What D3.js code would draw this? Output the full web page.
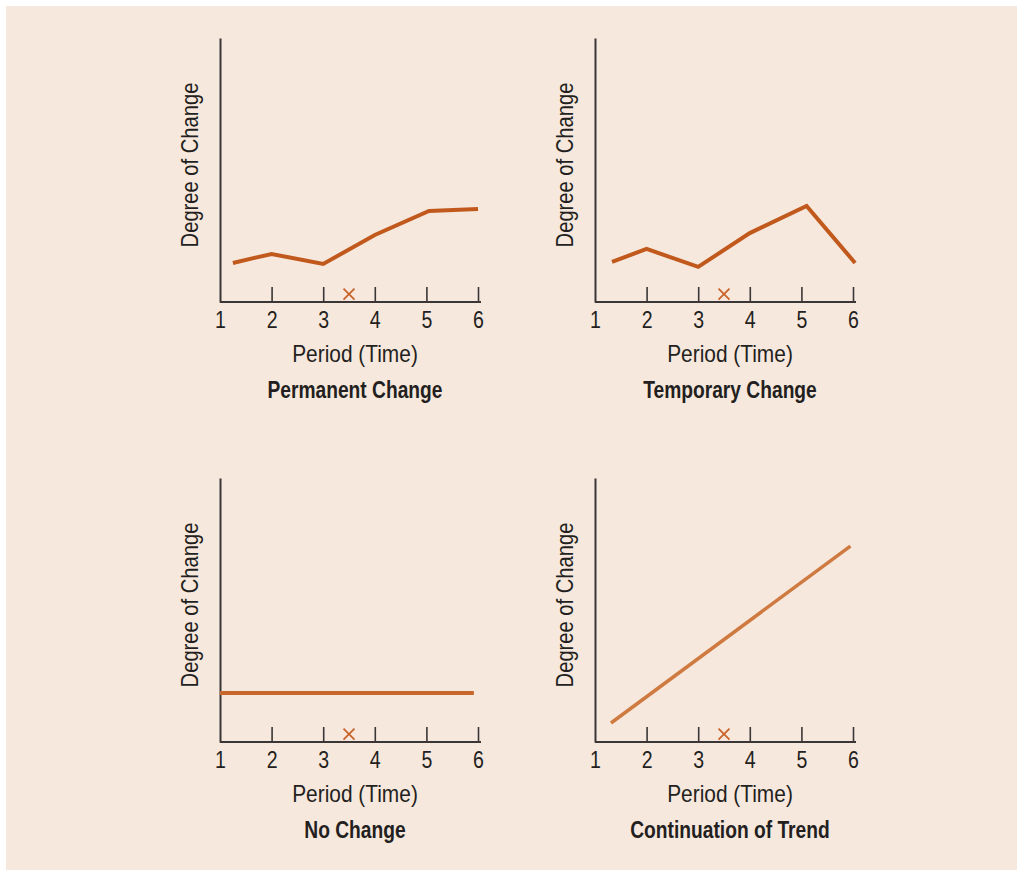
<!DOCTYPE html>
<html>
<head>
<meta charset="utf-8">
<script src="https://cdn.jsdelivr.net/npm/d3@7"></script>
<style>
  html, body { margin: 0; padding: 0; background: #ffffff; }
  svg text { font-family: "Liberation Sans", Arial, sans-serif; fill: #231f20; }
</style>
</head>
<body>
<svg id="chart" width="1017" height="870"></svg>
<script>
// ---- Data ----
const periods = [1, 2, 3, 4, 5, 6];
const tickPeriods = [2, 3, 4, 5, 6];
const xTitle = "Period (Time)";
const yTitle = "Degree of Change";
const markerPeriod = 3.5;
const markerLevel = 3;

const permanentX = [1.25, 2, 3, 4, 5.05, 6];
const permanentY = [14.8, 18.2, 14.4, 25.4, 34.5, 35.2];

const temporaryX = [1.33, 2, 3, 4, 5.1, 6.04];
const temporaryY = [15.2, 20.1, 13.3, 26.1, 36.4, 14.8];

const noChangeX = [1, 5.92];
const noChangeY = [18.6, 18.6];

const trendX = [1.31, 5.95];
const trendY = [7.2, 74.2];

const panelTitles = ["Permanent Change", "Temporary Change", "No Change", "Continuation of Trend"];

// ---- Layout ----
const svg = d3.select("#chart");
svg.append("rect").attr("x", 6).attr("y", 6).attr("width", 1011).attr("height", 864).attr("fill", "#f7e8de");

const panels = [
  { title: panelTitles[0], xs: permanentX, ys: permanentY, left: 220, right: 478, base: 302, color: "#c1591d", width: 4 },
  { title: panelTitles[1], xs: temporaryX, ys: temporaryY, left: 595, right: 853, base: 302, color: "#c1591d", width: 4 },
  { title: panelTitles[2], xs: noChangeX, ys: noChangeY, left: 220, right: 478, base: 742, color: "#c8672c", width: 4 },
  { title: panelTitles[3], xs: trendX, ys: trendY, left: 595, right: 853, base: 742, color: "#cf7a40", width: 3.5 }
];

const plotHeight = 264;
const axisColor = "#3a3636";
const markerColor = "#c9652b";

// condense text horizontally to mimic a condensed typeface
function condense(sel, factor) {
  sel.each(function () {
    const w = this.getComputedTextLength();
    d3.select(this).attr("textLength", w * factor).attr("lengthAdjust", "spacingAndGlyphs");
  });
}

panels.forEach(p => {
  const x = d3.scaleLinear().domain([1, 6]).range([p.left, p.right]);
  const y = d3.scaleLinear().domain([0, 100]).range([p.base, p.base - plotHeight]);
  const g = svg.append("g");

  // y axis (line only)
  const ya = g.append("g").attr("transform", `translate(${p.left},0)`)
    .call(d3.axisLeft(y).tickValues([]).tickSizeOuter(0));
  ya.select(".domain").attr("stroke", axisColor).attr("stroke-width", 2);

  // x axis
  const xa = g.append("g").attr("transform", `translate(0,${p.base})`)
    .call(d3.axisBottom(x).tickValues(periods).tickFormat(d3.format("d")).tickSizeInner(-15).tickSizeOuter(0).tickPadding(10));
  xa.select(".domain").remove();
  xa.selectAll(".tick line").attr("stroke", axisColor).attr("stroke-width", 1.6)
    .filter(d => !tickPeriods.includes(d)).remove();
  xa.selectAll(".tick text").attr("font-size", 23).attr("fill", "#231f20").attr("dy", "0.71em")
    .attr("font-family", "Liberation Sans, Arial, sans-serif");
  condense(xa.selectAll(".tick text"), 0.85);
  g.append("line")
    .attr("x1", x(1)).attr("x2", x(6) + 3)
    .attr("y1", p.base).attr("y2", p.base)
    .attr("stroke", axisColor).attr("stroke-width", 2);

  // data line
  const pts = p.xs.map((v, i) => [v, p.ys[i]]);
  g.append("path")
    .datum(pts)
    .attr("d", d3.line().x(d => x(d[0])).y(d => y(d[1])))
    .attr("fill", "none")
    .attr("stroke", p.color)
    .attr("stroke-width", p.width)
    .attr("stroke-linejoin", "miter");

  // marker X
  const mx = x(markerPeriod), my = y(markerLevel), s = 5.5;
  g.append("path")
    .attr("d", `M${mx - s},${my - s}L${mx + s},${my + s}M${mx - s},${my + s}L${mx + s},${my - s}`)
    .attr("stroke", markerColor).attr("stroke-width", 1.8).attr("fill", "none");

  // axis titles
  const cx = (p.left + p.right) / 2 + 6;
  const xt = g.append("text")
    .attr("x", cx).attr("y", p.base + 60)
    .attr("text-anchor", "middle").attr("font-size", 24)
    .text(xTitle);
  condense(xt, 0.87);
  const yt = g.append("text")
    .attr("transform", `translate(${p.left - 22},${p.base - 137}) rotate(-90)`)
    .attr("text-anchor", "middle").attr("font-size", 24)
    .text(yTitle);
  condense(yt, 0.84);
  const tt = g.append("text")
    .attr("x", cx).attr("y", p.base + 96)
    .attr("text-anchor", "middle").attr("font-size", 23).attr("font-weight", "bold")
    .text(p.title);
  condense(tt, 0.835);
});
</script>
</body>
</html>
